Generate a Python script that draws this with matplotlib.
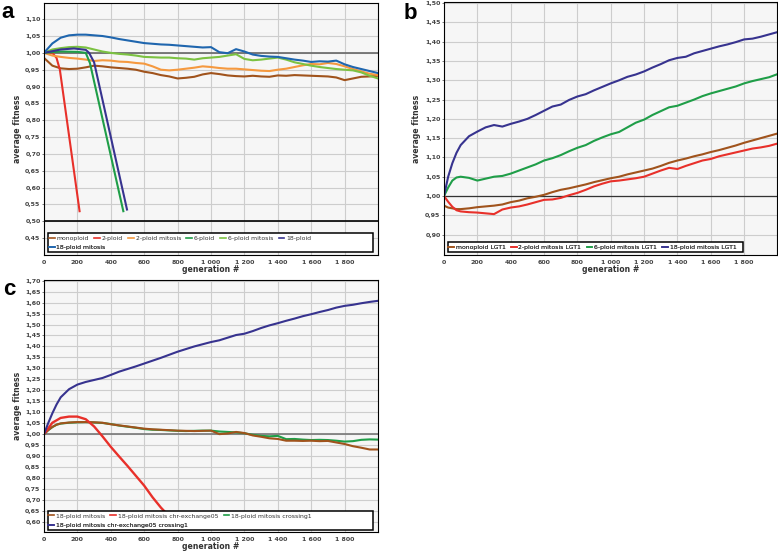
import matplotlib
matplotlib.use('Agg')
import matplotlib.pyplot as plt
from matplotlib.patches import Rectangle

# ---------------- data ----------------
gens_a = list(range(0, 2001, 50))

a_18p_mitosis = [1.000, 1.028, 1.045, 1.052, 1.054, 1.054, 1.052, 1.050, 1.046, 1.041,
                 1.037, 1.033, 1.029, 1.027, 1.025, 1.024, 1.022, 1.020, 1.018, 1.016,
                 1.017, 1.002, 0.999, 1.011, 1.004, 0.995, 0.991, 0.989, 0.988, 0.984,
                 0.980, 0.977, 0.973, 0.975, 0.974, 0.977, 0.966, 0.958, 0.952, 0.946,
                 0.940]
a_6p_mitosis = [1.000, 1.010, 1.014, 1.017, 1.018, 1.016, 1.010, 1.004, 1.000, 0.997,
                0.995, 0.992, 0.988, 0.987, 0.986, 0.986, 0.984, 0.983, 0.980, 0.984,
                0.986, 0.988, 0.992, 0.996, 0.982, 0.978, 0.980, 0.983, 0.986, 0.980,
                0.972, 0.967, 0.962, 0.958, 0.955, 0.952, 0.950, 0.948, 0.942, 0.932,
                0.924]
a_2p_mitosis = [1.000, 0.992, 0.988, 0.985, 0.983, 0.980, 0.976, 0.978, 0.977, 0.974,
                0.973, 0.970, 0.968, 0.960, 0.950, 0.948, 0.950, 0.953, 0.956, 0.960,
                0.958, 0.955, 0.953, 0.953, 0.951, 0.949, 0.947, 0.946, 0.950, 0.953,
                0.958, 0.963, 0.967, 0.966, 0.970, 0.967, 0.960, 0.952, 0.945, 0.938,
                0.934]
a_monoploid = [0.985, 0.962, 0.954, 0.952, 0.953, 0.957, 0.962, 0.960, 0.957, 0.955,
               0.953, 0.950, 0.944, 0.940, 0.934, 0.930, 0.924, 0.926, 0.929, 0.936,
               0.940, 0.937, 0.933, 0.931, 0.930, 0.932, 0.930, 0.929, 0.933, 0.932,
               0.934, 0.933, 0.932, 0.931, 0.930, 0.927, 0.919, 0.924, 0.929, 0.930,
               0.932]
a_2p_gens = [0, 50, 75, 95, 213]
a_2p = [1.000, 1.000, 0.985, 0.950, 0.530]
a_6p_gens = [0, 100, 200, 250, 275, 475]
a_6p = [1.000, 1.004, 1.003, 1.000, 0.970, 0.530]
a_18p_gens = [0, 100, 180, 250, 270, 300, 497]
a_18p = [1.000, 1.010, 1.013, 1.009, 1.000, 0.972, 0.535]

gens_bc = [0, 25, 50, 75, 100] + list(range(150, 2001, 50))

b_mono = [0.975, 0.970, 0.968, 0.966, 0.966,
          0.968, 0.971, 0.973, 0.975, 0.978, 0.984, 0.988, 0.994, 0.998, 1.003,
          1.010, 1.016, 1.020, 1.025, 1.030, 1.036, 1.041, 1.046, 1.050, 1.056,
          1.061, 1.066, 1.071, 1.078, 1.086, 1.092, 1.097, 1.103, 1.108, 1.114,
          1.119, 1.125, 1.131, 1.138, 1.144, 1.150, 1.156, 1.162]
b_2p = [1.000, 0.985, 0.972, 0.963, 0.960,
        0.958, 0.957, 0.955, 0.953, 0.965, 0.970, 0.973, 0.978, 0.984, 0.990,
        0.991, 0.995, 1.002, 1.008, 1.016, 1.025, 1.032, 1.038, 1.040, 1.043,
        1.046, 1.050, 1.058, 1.066, 1.073, 1.070, 1.078, 1.085, 1.092, 1.096,
        1.103, 1.108, 1.113, 1.118, 1.123, 1.126, 1.130, 1.136]
b_6p = [1.000, 1.022, 1.040, 1.048, 1.050,
        1.047, 1.040, 1.045, 1.050, 1.052, 1.058, 1.066, 1.074, 1.082, 1.092,
        1.098, 1.106, 1.116, 1.125, 1.132, 1.143, 1.152, 1.160, 1.166, 1.178,
        1.190, 1.198, 1.210, 1.220, 1.230, 1.234, 1.242, 1.250, 1.259, 1.266,
        1.272, 1.278, 1.284, 1.292, 1.298, 1.303, 1.308, 1.316]
b_18p = [1.000, 1.050, 1.085, 1.112, 1.132,
         1.155, 1.167, 1.178, 1.184, 1.180, 1.187, 1.193, 1.200, 1.210, 1.221,
         1.232, 1.237, 1.249, 1.258, 1.264, 1.274, 1.283, 1.292, 1.300, 1.309,
         1.315, 1.323, 1.333, 1.342, 1.352, 1.358, 1.361, 1.370, 1.376, 1.382,
         1.388, 1.393, 1.399, 1.406, 1.408, 1.413, 1.419, 1.425]

c_mitosis = [1.000, 1.018, 1.033, 1.043, 1.049,
             1.053, 1.055, 1.055, 1.054, 1.052, 1.045, 1.040, 1.035, 1.030, 1.025,
             1.022, 1.020, 1.018, 1.016, 1.015, 1.014, 1.015, 1.016, 1.000, 1.003,
             1.010, 1.005, 0.994, 0.988, 0.981, 0.978, 0.970, 0.970, 0.969, 0.970,
             0.968, 0.969, 0.962, 0.955, 0.945, 0.938, 0.930, 0.930]
c_crossing = [1.000, 1.018, 1.032, 1.043, 1.048,
              1.052, 1.054, 1.055, 1.053, 1.051, 1.046, 1.039, 1.034, 1.029, 1.023,
              1.020, 1.019, 1.017, 1.015, 1.014, 1.015, 1.016, 1.016, 1.012, 1.010,
              1.008, 1.004, 0.997, 0.992, 0.990, 0.992, 0.977, 0.978, 0.975, 0.973,
              0.974, 0.973, 0.970, 0.966, 0.968, 0.974, 0.976, 0.975]
c_both = [1.000, 1.050, 1.095, 1.135, 1.168,
          1.205, 1.226, 1.238, 1.247, 1.256, 1.270, 1.285, 1.297, 1.309, 1.322,
          1.335, 1.348, 1.362, 1.376, 1.388, 1.400, 1.410, 1.420, 1.428, 1.440,
          1.452, 1.458, 1.470, 1.484, 1.496, 1.506, 1.517, 1.527, 1.538, 1.547,
          1.557, 1.566, 1.577, 1.585, 1.590, 1.597, 1.603, 1.608]
c_chr_gens = [0, 50, 100, 150, 200, 250, 300, 350, 400, 450, 500, 550, 600, 650, 700, 750, 800]
c_chr = [1.000, 1.052, 1.074, 1.080, 1.080, 1.068, 1.035, 0.990, 0.942, 0.898,
         0.855, 0.810, 0.765, 0.712, 0.665, 0.625, 0.588]

# colours
BROWN = '#a0531c'
RED = '#e8302a'
ORANGE = '#f5993f'
DGREEN = '#1f9e48'
LGREEN = '#7cc242'
NAVY = '#37338f'
BLUE = '#1f66ae'
LW = 1.5

W, H = 778, 552
fig = plt.figure(figsize=(W / 100, H / 100), dpi=100)


def px_axes(x0, y0, x1, y1):
    return fig.add_axes([x0 / W, 1 - y1 / H, (x1 - x0) / W, (y1 - y0) / H])


def style(ax, ylim, yticks):
    ax.set_facecolor('#f6f6f6')
    ax.set_xlim(0, 2000)
    ax.set_ylim(*ylim)
    xt = list(range(0, 1801, 200))
    ax.set_xticks(xt, [f'{v:,}'.replace(',', ' ') for v in xt],
                  fontsize=4.5, fontweight='bold', color='#444')
    ax.set_yticks(yticks, [f'{v:.2f}'.replace('.', ',') for v in yticks],
                  fontsize=4.5, fontweight='bold', color='#444')
    ax.tick_params(axis='x', length=0, pad=3.5)
    ax.tick_params(axis='y', length=1.5, width=0.6, pad=1, color='#666')
    ax.grid(True, color='#cdcdcd', lw=0.8)
    ax.set_axisbelow(True)
    for s in ax.spines.values():
        s.set_color('black')
        s.set_linewidth(0.8)
    ax.set_ylabel('average fitness', fontsize=5.6, fontweight='bold', color='#333')
    ax.set_xlabel('generation #', fontsize=5.6, fontweight='bold', color='#333')


def legend_rows(ax, rows, box, ys, x=0.015):
    ax.add_patch(Rectangle((box[0], box[1]), box[2], box[3], transform=ax.transAxes,
                           facecolor='white', edgecolor='black', lw=1.1, zorder=4))
    for row, y in zip(rows, ys):
        handles = [plt.Line2D([], [], color=c, lw=1.2) for c, _ in row]
        labels = [l for _, l in row]
        leg = ax.legend(handles, labels, loc='center left', bbox_to_anchor=(x, y),
                        ncol=len(row), frameon=False, fontsize=4.4, handlelength=0.9,
                        handletextpad=0.3, columnspacing=0.9, borderpad=0,
                        borderaxespad=0)
        for t in leg.get_texts():
            t.set_color('#333')
        leg.set_zorder(5)
        ax.add_artist(leg)


yt = lambda lo, hi: [round(lo + 0.05 * i, 2) for i in range(int(round((hi - lo) / 0.05)) + 1)]

# ---------------- panel a ----------------
ax = px_axes(44, 3, 378, 255)
style(ax, (0.40, 1.148), yt(0.45, 1.10))
ax.axhline(1.0, color='#666', lw=1.2, zorder=1.5)
ax.axhline(0.5, color='black', lw=1.2, zorder=1.5)
ax.plot(gens_a, a_monoploid, color=BROWN, lw=LW)
ax.plot(a_2p_gens, a_2p, color=RED, lw=LW)
ax.plot(gens_a, a_2p_mitosis, color=ORANGE, lw=LW)
ax.plot(a_6p_gens, a_6p, color=DGREEN, lw=LW)
ax.plot(gens_a, a_6p_mitosis, color=LGREEN, lw=LW)
ax.plot(a_18p_gens, a_18p, color=NAVY, lw=LW)
ax.plot(gens_a, a_18p_mitosis, color=BLUE, lw=LW)
ax.yaxis.set_label_coords(-0.066, 0.5)
ax.xaxis.set_label_coords(0.5, -0.056)
ax.xaxis.label.set_va('center')
legend_rows(ax,
            [[(BROWN, 'monoploid'), (RED, '2-ploid'), (ORANGE, '2-ploid mitosis'),
              (DGREEN, '6-ploid'), (LGREEN, '6-ploid mitosis'), (NAVY, '18-ploid')],
             [(BLUE, '18-ploid mitosis')]],
            (0.011, 0.012, 0.975, 0.0754), [0.0647, 0.029])

# ---------------- panel b ----------------
ax = px_axes(444, 2, 777.5, 255)
style(ax, (0.847, 1.503), yt(0.90, 1.50))
ax.axhline(1.0, color='#333', lw=0.9, zorder=1.5)
ax.plot(gens_bc, b_mono, color=BROWN, lw=LW)
ax.plot(gens_bc, b_2p, color=RED, lw=LW)
ax.plot(gens_bc, b_6p, color=DGREEN, lw=LW)
ax.plot(gens_bc, b_18p, color=NAVY, lw=LW)
ax.yaxis.set_label_coords(-0.069, 0.5)
ax.xaxis.set_label_coords(0.5, -0.056)
ax.xaxis.label.set_va('center')
legend_rows(ax,
            [[(BROWN, 'monoploid LGT1'), (RED, '2-ploid mitosis LGT1'),
              (DGREEN, '6-ploid mitosis LGT1'), (NAVY, '18-ploid mitosis LGT1')]],
            (0.011, 0.0107, 0.885, 0.0395), [0.0304], x=0.013)

# ---------------- panel c ----------------
ax = px_axes(44, 280, 378, 531.7)
style(ax, (0.555, 1.703), yt(0.60, 1.70))
ax.axhline(1.0, color='#777', lw=1.2, zorder=1.5)
ax.plot(gens_bc, c_crossing, color=DGREEN, lw=LW)
ax.plot(gens_bc, c_mitosis, color=BROWN, lw=LW)
ax.plot(c_chr_gens, c_chr, color=RED, lw=1.7)
ax.plot(gens_bc, c_both, color=NAVY, lw=LW)
ax.yaxis.set_label_coords(-0.066, 0.5)
ax.xaxis.set_label_coords(0.5, -0.057)
ax.xaxis.label.set_va('center')
legend_rows(ax,
            [[(BROWN, '18-ploid mitosis'), (RED, '18-ploid mitosis chr-exchange05'),
              (DGREEN, '18-ploid mitosis crossing1')],
             [(NAVY, '18-ploid mitosis chr-exchange05 crossing1')]],
            (0.011, 0.0068, 0.975, 0.0755), [0.0624, 0.0266], x=0.013)

# panel letters
fig.text(1 / W, 1 - 18 / H, 'a', fontsize=16, fontweight='bold', family='Liberation Sans')
fig.text(404 / W, 1 - 19 / H, 'b', fontsize=16, fontweight='bold', family='Liberation Sans')
fig.text(3 / W, 1 - 295 / H, 'c', fontsize=16, fontweight='bold', family='Liberation Sans')

fig.savefig('out.png', dpi=100)
